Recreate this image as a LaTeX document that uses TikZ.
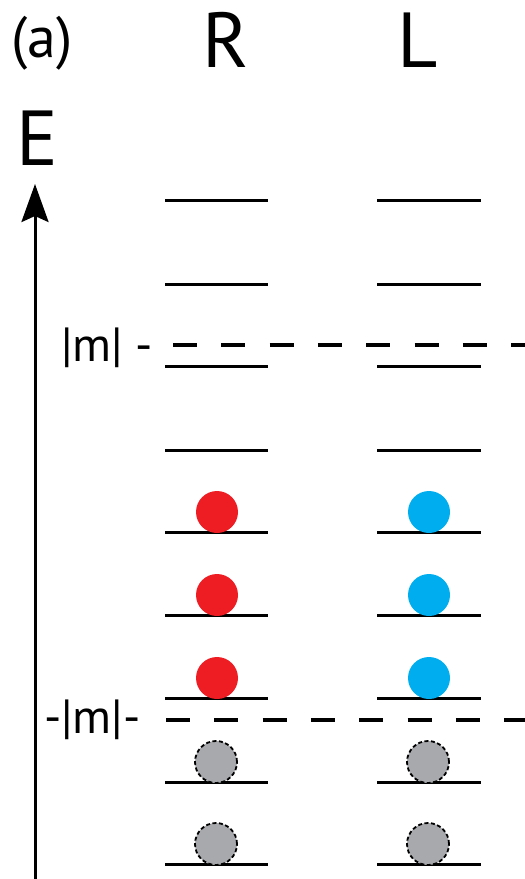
\documentclass[tikz,border=0pt]{standalone}
\usepackage{fontspec}
\setmainfont{PT Sans}
\usetikzlibrary{arrows.meta}
\definecolor{ballred}{HTML}{EE1D23}
\definecolor{ballblue}{HTML}{00AEEF}
\definecolor{ballgray}{HTML}{A7A9AC}
\begin{document}
\begin{tikzpicture}[x=1pt,y=-1pt,
    level/.style={line width=3pt},
    gapline/.style={line width=3.5pt, dash pattern=on 24pt off 24.3pt},
    ball/.style={circle, inner sep=0pt, minimum size=42pt},
    hole/.style={ball, fill=ballgray, draw=black, line width=1.8pt, dash pattern=on 4pt off 2.5pt},
    big/.style={font=\fontsize{78}{78}\selectfont, inner sep=0pt, anchor=base},
    mid/.style={font=\fontsize{48}{48}\selectfont, inner sep=0pt, anchor=base}]
    \useasboundingbox (0,0) rectangle (525,879);

    % headings
    \node[font=\fontsize{58}{58}\selectfont, inner sep=0pt, anchor=base west] (tag) at (11,57) {(a)};
    \node[big] (colR) at (226,67) {R};
    \node[big] (colL) at (418,67) {L};
    \node[big] (energy) at (37,165) {E};

    % energy axis
    \coordinate (axisfoot) at (35,879);
    \coordinate (axistip) at (35,184);
    \draw[line width=3pt, -{Stealth[length=38pt,width=27pt,inset=6pt]}] (axisfoot) -- (axistip);

    % levels, R and L
    \foreach \y in {200,284,366,450,532,615,698,782,864} {
        \draw[level] (165,\y) -- (268,\y);
        \draw[level] (377,\y) -- (481,\y);
    }

    % +|m|
    \node[mid, anchor=base west] (upper) at (61,361) {|m| -};
    \coordinate (upperend) at (525,345);
    \draw[gapline] (173,345) -- (upperend);

    % -|m|
    \node[mid, anchor=base west] (lower) at (44,733) {-|m|-};
    \coordinate (lowerend) at (525,720);
    \draw[gapline] (166,720) -- (lowerend);

    % filled states
    \node[ball, fill=ballred] (r1) at (217,512) {};
    \node[ball, fill=ballred] (r2) at (217,595) {};
    \node[ball, fill=ballred] (r3) at (217,678) {};
    \node[ball, fill=ballblue] (l1) at (429,512) {};
    \node[ball, fill=ballblue] (l2) at (429,595) {};
    \node[ball, fill=ballblue] (l3) at (429,678) {};

    % states below -|m|
    \node[hole] (r4) at (216,762) {};
    \node[hole] (r5) at (216,844) {};
    \node[hole] (l4) at (428,762) {};
    \node[hole] (l5) at (428,844) {};
\end{tikzpicture}
\end{document}
